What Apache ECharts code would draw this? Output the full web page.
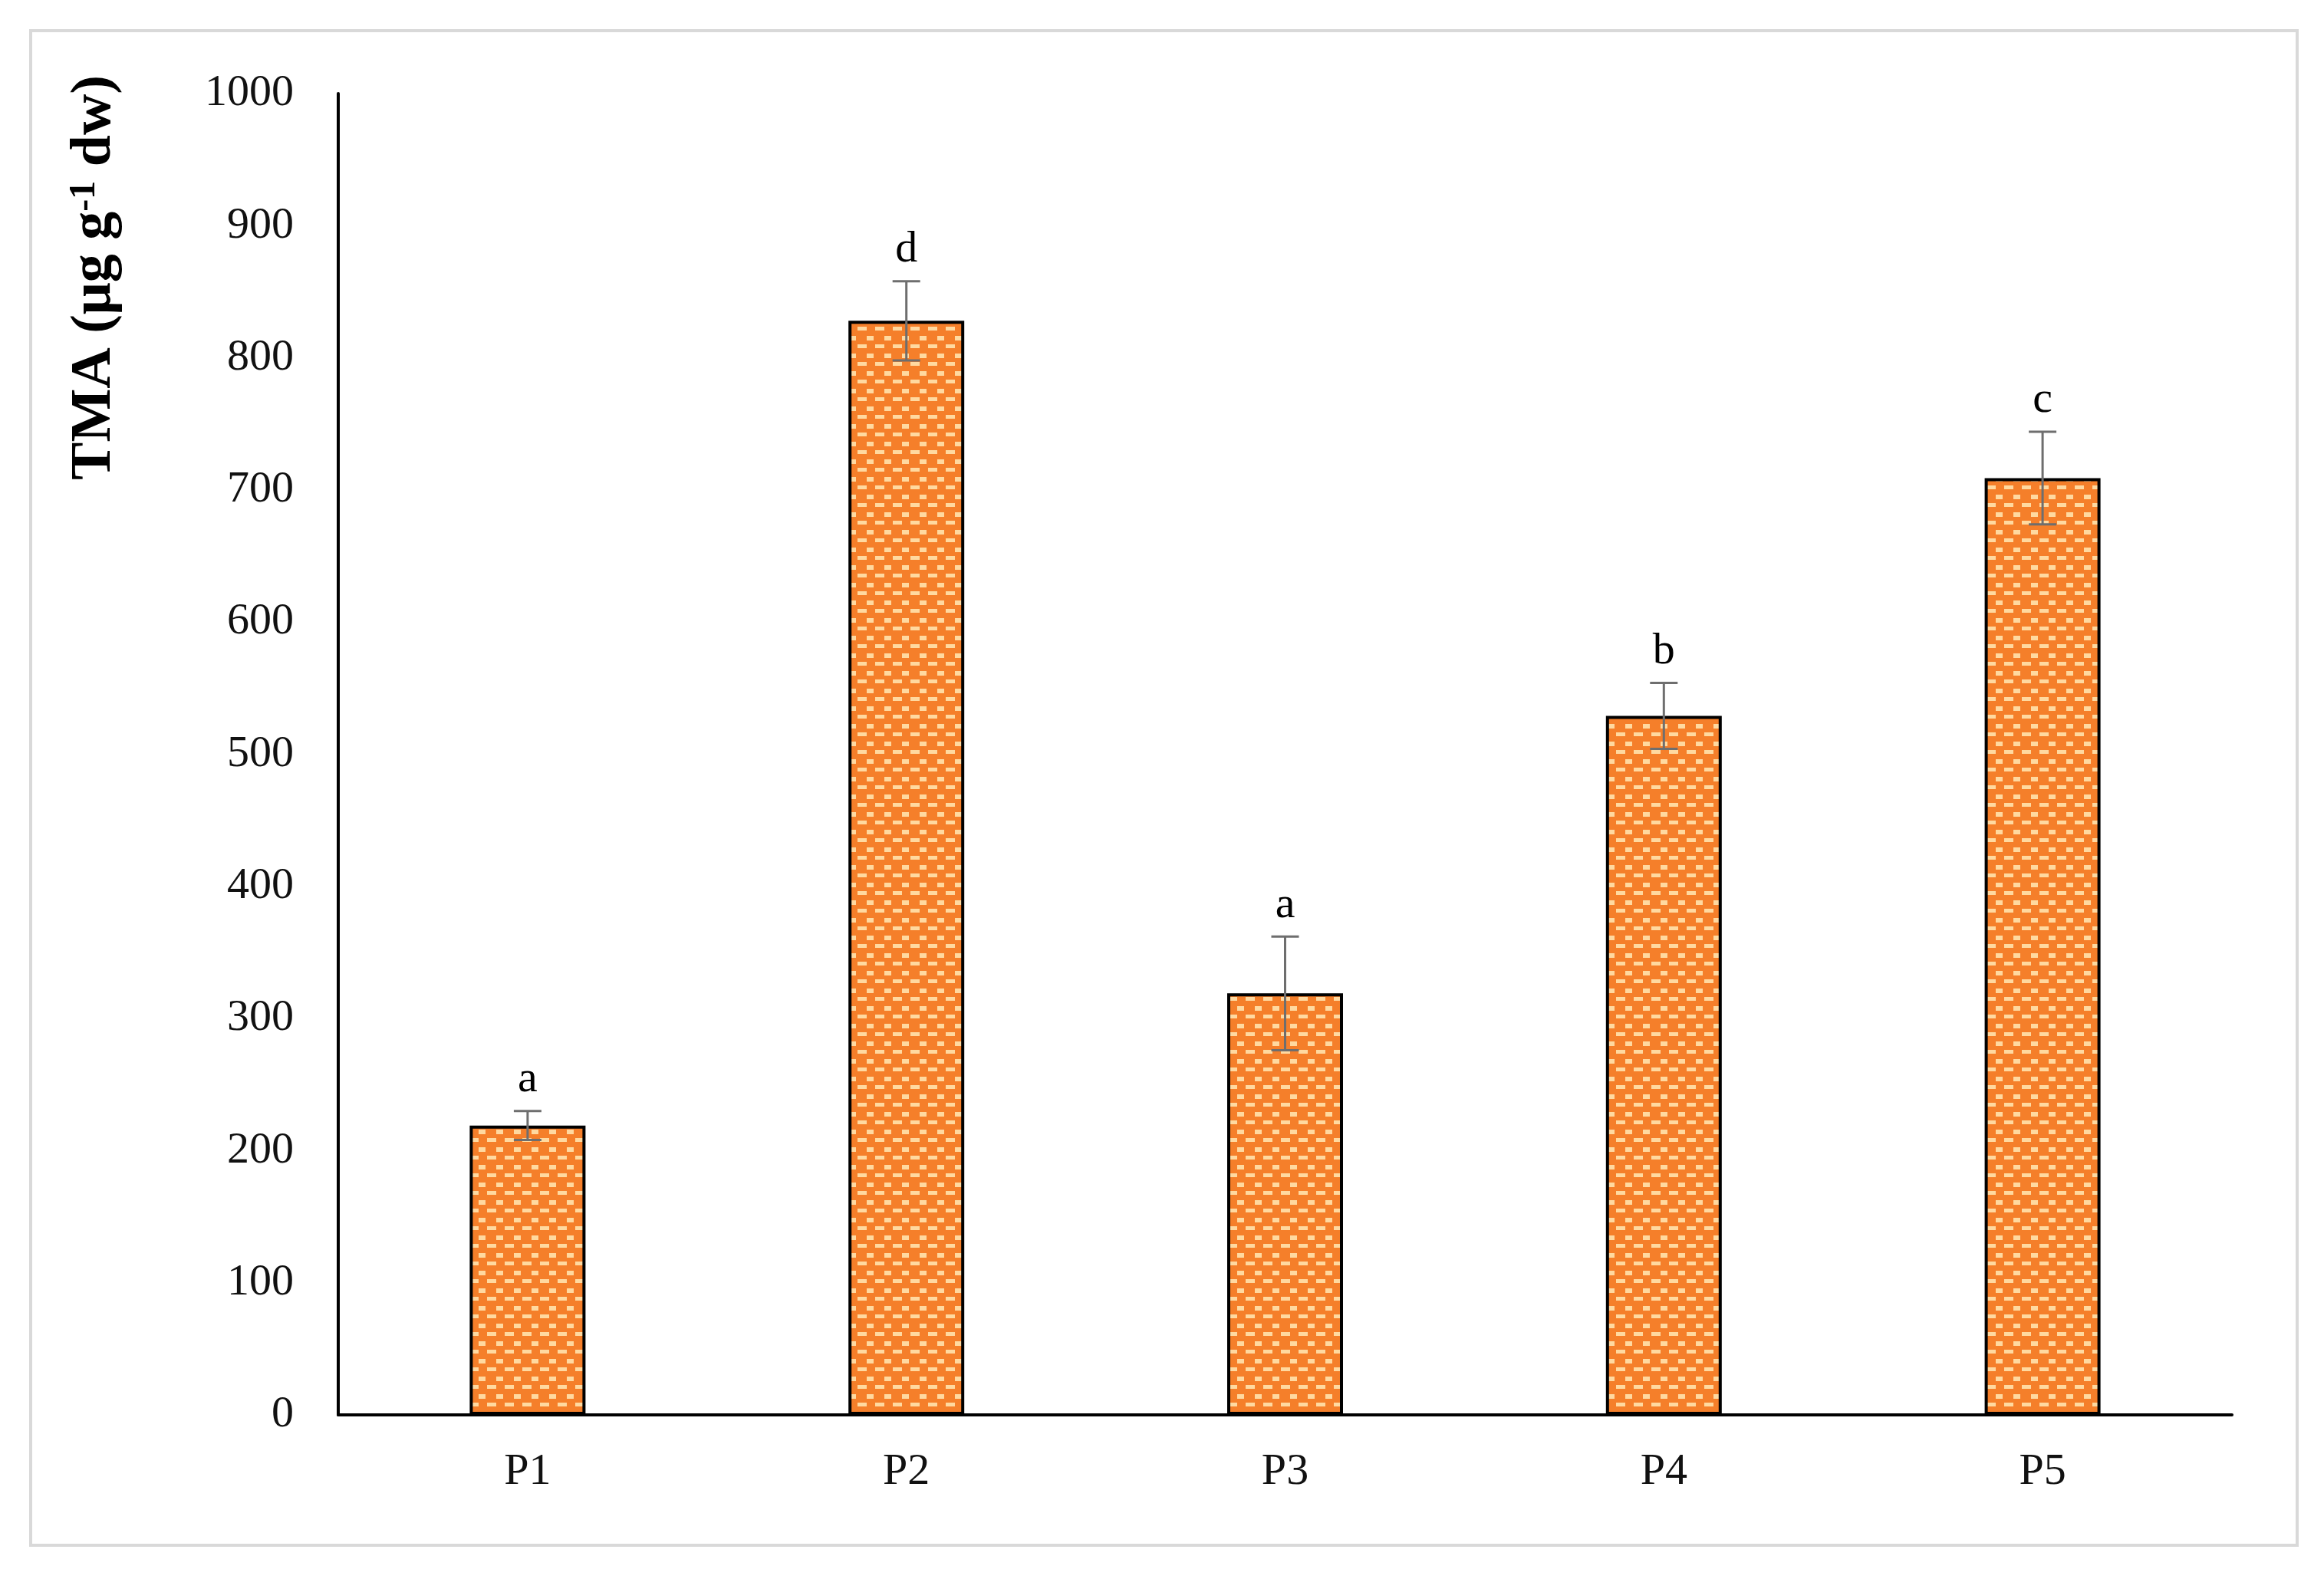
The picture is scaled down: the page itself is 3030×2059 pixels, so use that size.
<!DOCTYPE html>
<html>
<head>
<meta charset="utf-8">
<script src="https://cdn.jsdelivr.net/npm/echarts@6/dist/echarts.min.js"></script>
<style>
  html, body { margin: 0; padding: 0; background: #fff; }
  #chart { width: 3030px; height: 2059px; }
</style>
</head>
<body>
<div id="chart"></div>
<script>
const categories = ['P1', 'P2', 'P3', 'P4', 'P5'];
const tmaValues = [219, 828, 319, 529, 709];
const tmaErrors = [11, 30, 43, 25, 35];
const groupLetters = ['a', 'd', 'a', 'b', 'c'];
const yTicks = [0, 100, 200, 300, 400, 500, 600, 700, 800, 900, 1000];

const FONT = '"Liberation Serif", "Times New Roman", serif';

// orange fill with light dashes, like the excel pattern
const makePattern = () => {
  const c = document.createElement('canvas');
  c.width = 23;
  c.height = 23;
  const ctx = c.getContext('2d');
  ctx.fillStyle = '#F57F2A';
  ctx.fillRect(0, 0, 23, 23);
  ctx.fillStyle = '#FFD9A0';
  ctx.fillRect(3, 1, 9, 6);
  ctx.fillRect(14, 12, 11, 5);
  ctx.fillRect(0, 12, 3, 5);
  return c;
};

const chart = echarts.init(document.getElementById('chart'));

const option = {
  backgroundColor: '#fff',
  animation: false,
  graphic: [
    {
      type: 'rect',
      shape: { x: 40, y: 40, width: 2955, height: 1975 },
      style: { fill: 'none', stroke: '#d9d9d9', lineWidth: 4 },
      silent: true
    },
    {
      type: 'text',
      x: 124,
      y: 362,
      rotation: Math.PI / 2,
      style: {
        text: '{t|TMA (μg g}{s|-1}{t| dw)}',
        align: 'center',
        verticalAlign: 'middle',
        rich: {
          t: { fontFamily: FONT, fontSize: 74, fontWeight: 'bold', fill: '#000' },
          s: { fontFamily: FONT, fontSize: 48, fontWeight: 'bold', fill: '#000', verticalAlign: 'top', padding: [0, 0, 26, 0] }
        }
      }
    }
  ],
  grid: {
    left: 441,
    right: 120,
    top: 122,
    bottom: 214
  },
  xAxis: {
    type: 'category',
    data: categories,
    axisLine: { lineStyle: { color: '#000', width: 4 } },
    axisTick: { show: false },
    axisLabel: {
      margin: 46,
      fontFamily: FONT,
      fontSize: 58,
      color: '#111'
    }
  },
  yAxis: {
    type: 'value',
    min: yTicks[0],
    max: yTicks[yTicks.length - 1],
    interval: 100,
    axisLine: { show: true, lineStyle: { color: '#000', width: 4 } },
    axisTick: { show: false },
    splitLine: { show: false },
    axisLabel: {
      margin: 58,
      fontFamily: FONT,
      fontSize: 58,
      color: '#111',
      formatter: (v) => String(v)
    }
  },
  series: [
    {
      name: 'TMA',
      type: 'bar',
      data: tmaValues,
      barWidth: 151,
      itemStyle: {
        color: { image: makePattern(), repeat: 'repeat' },
        borderColor: '#000',
        borderWidth: 4
      }
    },
    {
      // error bars + letters
      type: 'custom',
      data: tmaValues.map((v, i) => [i, v, tmaErrors[i]]),
      z: 5,
      renderItem: (params, api) => {
        const i = api.value(0);
        const v = api.value(1);
        const e = api.value(2);
        const top = api.coord([i, v + e]);
        const bot = api.coord([i, v - e]);
        const hw = 18;
        const style = { stroke: '#6e6e6e', lineWidth: 3 };
        return {
          type: 'group',
          children: [
            { type: 'line', shape: { x1: top[0], y1: top[1], x2: bot[0], y2: bot[1] }, style },
            { type: 'line', shape: { x1: top[0] - hw, y1: top[1], x2: top[0] + hw, y2: top[1] }, style },
            { type: 'line', shape: { x1: bot[0] - hw, y1: bot[1], x2: bot[0] + hw, y2: bot[1] }, style },
            {
              type: 'text',
              x: top[0],
              y: top[1] - 12,
              style: {
                text: groupLetters[params.dataIndex],
                fontFamily: FONT,
                fontSize: 58,
                fill: '#000',
                align: 'center',
                verticalAlign: 'bottom'
              }
            }
          ]
        };
      }
    }
  ]
};

chart.setOption(option);
</script>
</body>
</html>
